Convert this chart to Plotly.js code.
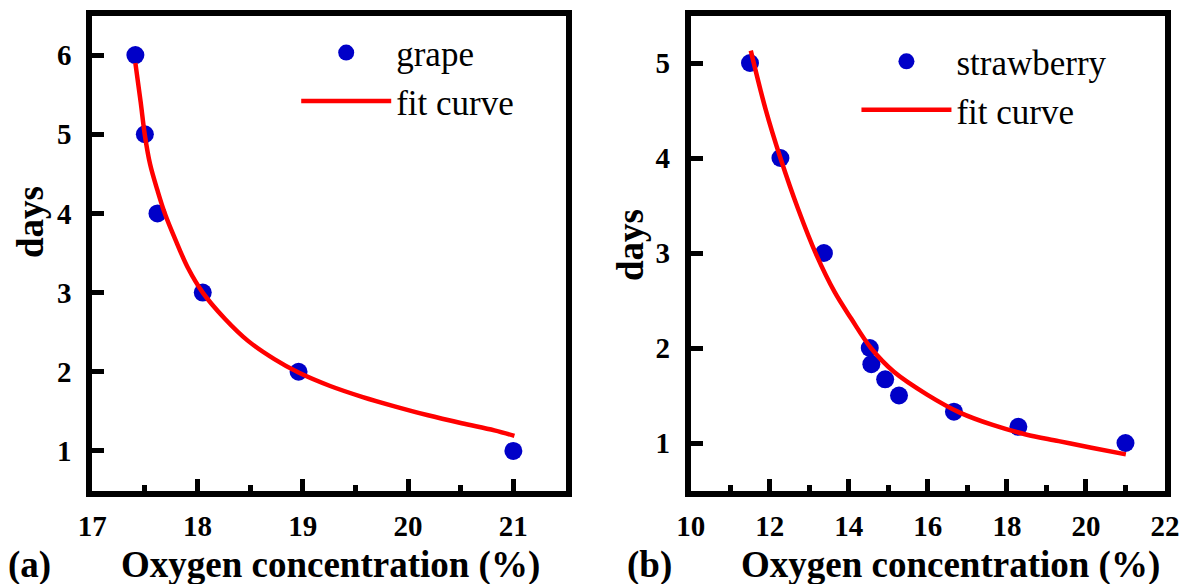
<!DOCTYPE html>
<html>
<head>
<meta charset="utf-8">
<script src="https://cdn.plot.ly/plotly-3.0.1.min.js"></script>
<style>html,body{margin:0;padding:0;background:#fff;}#chart{width:1192px;height:584px;}</style>
</head>
<body>
<div id="chart"></div>
<script>
// ---- Data ----
// (a) grape
const grapeO2   = [17.41, 17.50, 17.62, 18.05, 18.96, 21.0];
const grapeDays = [6, 5, 4, 3, 2, 1];
const grapeFitX = [17.41, 17.46, 17.50, 17.55, 17.62, 17.69, 17.79, 17.91, 18.05, 18.26, 18.48, 18.73, 18.96, 19.26, 19.57, 19.88, 20.19, 20.51, 20.82, 21.01];
const grapeFitY = [5.90, 5.41, 4.99, 4.62, 4.29, 4.00, 3.67, 3.31, 3.00, 2.67, 2.39, 2.16, 1.99, 1.82, 1.68, 1.56, 1.45, 1.35, 1.26, 1.19];
// (b) strawberry
const strawO2   = [11.5, 12.27, 13.37, 14.53, 14.57, 14.92, 15.27, 16.66, 18.29, 21.0];
const strawDays = [5, 4, 3, 2, 1.83, 1.67, 1.5, 1.33, 1.17, 1];
const strawFitX = [11.52, 11.89, 12.27, 12.72, 13.18, 13.64, 14.06, 14.56, 15.14, 15.98, 16.81, 17.64, 18.48, 19.31, 20.14, 21.01];
const strawFitY = [5.13, 4.52, 4.00, 3.46, 2.98, 2.59, 2.31, 2.00, 1.75, 1.51, 1.32, 1.19, 1.09, 1.02, 0.95, 0.88];
// axis ticks
const grapeXTicks = [17, 18, 19, 20, 21];
const grapeYTicks = [1, 2, 3, 4, 5, 6];
const strawXTicks = [10, 12, 14, 16, 18, 20, 22];
const strawYTicks = [1, 2, 3, 4, 5];
const seriesNames = ['grape', 'strawberry', 'fit curve'];

const BLUE = '#0000C8', RED = '#FF0000';
const serif = 'Liberation Serif';

const traces = [
  {x: grapeO2, y: grapeDays, type: 'scatter', mode: 'markers', name: seriesNames[0],
   marker: {color: BLUE, size: 18}, xaxis: 'x', yaxis: 'y', legend: 'legend'},
  {x: grapeFitX, y: grapeFitY, type: 'scatter', mode: 'lines', name: seriesNames[2],
   line: {color: RED, width: 4.5, shape: 'spline', smoothing: 1}, xaxis: 'x', yaxis: 'y', legend: 'legend'},
  {x: strawO2, y: strawDays, type: 'scatter', mode: 'markers', name: seriesNames[1],
   marker: {color: BLUE, size: 18}, xaxis: 'x2', yaxis: 'y2', legend: 'legend2'},
  {x: strawFitX, y: strawFitY, type: 'scatter', mode: 'lines', name: seriesNames[2],
   line: {color: RED, width: 4.5, shape: 'spline', smoothing: 1}, xaxis: 'x2', yaxis: 'y2', legend: 'legend2'}
];

function tf() { return {family: serif, size: 29, color: '#000', weight: 700}; }
function axisBase(extra) {
  return Object.assign({
    showline: true, linewidth: 6, linecolor: '#000', mirror: true,
    showgrid: false, zeroline: false, tickmode: 'array',
    ticks: 'inside', ticklen: 12, tickwidth: 5, tickcolor: '#000',
    tickfont: tf(), fixedrange: true
  }, extra);
}

// plot frames in pixels (inset by half the frame width; Plotly draws the frame outside)
const W = 1192, H = 584;
const leftX = [92.2 / W, 566 / W], rightX = [690.7 / W, 1165 / W];
const yDom = [1 - 490.5 / H, 1 - 15.5 / H];

const layout = {
  width: W, height: H,
  margin: {l: 0, r: 0, t: 0, b: 0},
  paper_bgcolor: '#fff', plot_bgcolor: '#fff',
  showlegend: true,
  xaxis: axisBase({domain: leftX, range: [17, 21.5], tickvals: grapeXTicks, ticklabelstandoff: 5,
    minor: {ticks: 'inside', ticklen: 6, tickwidth: 5, tickcolor: '#000', tick0: 17, dtick: 0.5}, anchor: 'y'}),
  yaxis: axisBase({domain: yDom, range: [0.5, 6.5], tickvals: grapeYTicks, ticklabelstandoff: 9, anchor: 'x'}),
  xaxis2: axisBase({domain: rightX, range: [10, 22], tickvals: strawXTicks, ticklabelstandoff: 5,
    minor: {ticks: 'inside', ticklen: 6, tickwidth: 5, tickcolor: '#000', tick0: 10, dtick: 1}, anchor: 'y2'}),
  yaxis2: axisBase({domain: yDom, range: [0.5, 5.5], tickvals: strawYTicks, ticklabelstandoff: 9, anchor: 'x2'}),
  legend: {x: 0.2485, y: 0.96, xanchor: 'left', yanchor: 'top', bgcolor: 'rgba(0,0,0,0)',
    font: {family: serif, size: 35, color: '#000'}, itemwidth: 90, itemsizing: 'trace', tracegroupgap: 0},
  legend2: {x: 0.7185, y: 0.945, xanchor: 'left', yanchor: 'top', bgcolor: 'rgba(0,0,0,0)',
    font: {family: serif, size: 35, color: '#000'}, itemwidth: 90, itemsizing: 'trace', tracegroupgap: 0},
  annotations: [
    {text: 'days', x: 30, y: 222, textangle: -90},
    {text: 'days', x: 630, y: 245, textangle: -90},
    {text: 'Oxygen concentration (%)', x: 330, y: 565},
    {text: 'Oxygen concentration (%)', x: 951, y: 565},
    {text: '(a)', x: 30, y: 565},
    {text: '(b)', x: 649, y: 565}
  ].map(a => ({
    text: a.text, xref: 'paper', yref: 'paper', x: a.x / W, y: 1 - a.y / H,
    xanchor: 'center', yanchor: 'middle', textangle: a.textangle || 0, showarrow: false,
    font: {family: serif, size: 37, color: '#000', weight: 700}
  }))
};

Plotly.newPlot('chart', traces, layout, {displayModeBar: false, staticPlot: true});
</script>
</body>
</html>
